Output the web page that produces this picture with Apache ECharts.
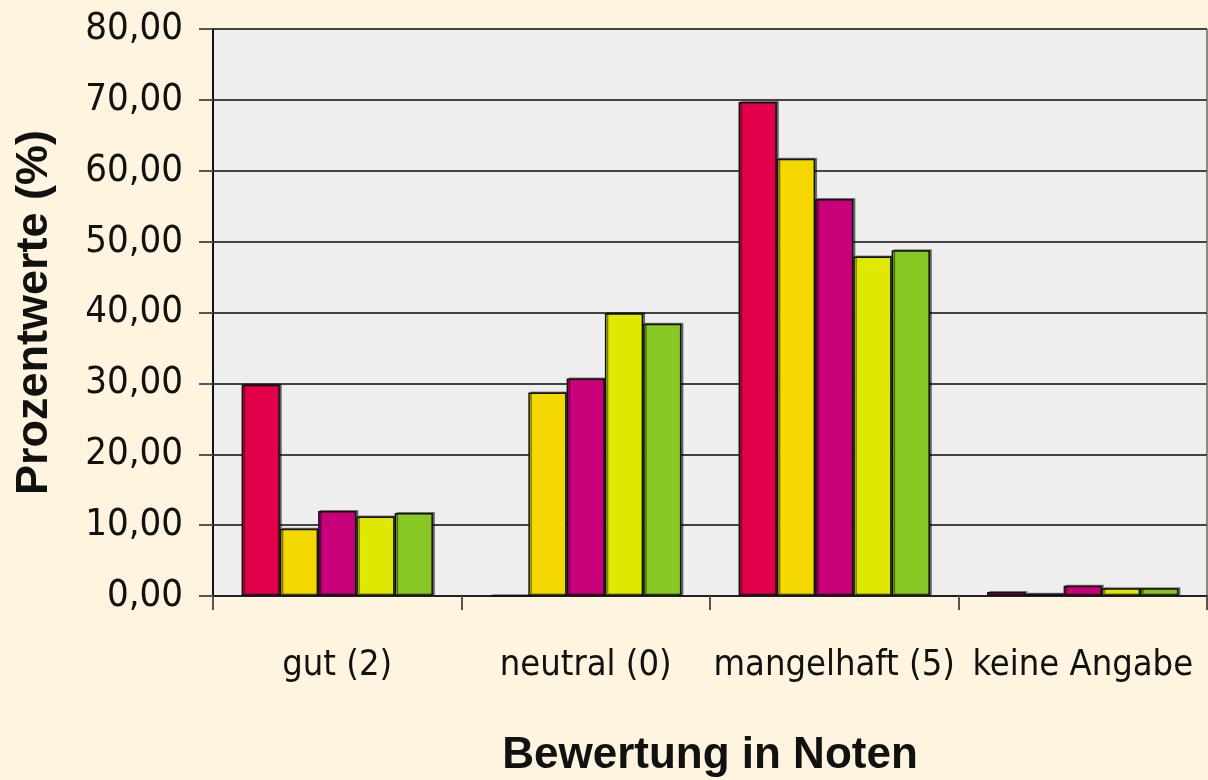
<!DOCTYPE html>
<html>
<head>
<meta charset="utf-8">
<script src="https://cdn.jsdelivr.net/npm/echarts@6/dist/echarts.min.js"></script>
<style>
html,body{margin:0;padding:0;background:#fef4df;}
#c{width:1208px;height:780px;}
</style>
</head>
<body>
<div id="c"></div>
<script>
var categories = ['gut (2)', 'neutral (0)', 'mangelhaft (5)', 'keine Angabe'];
var seriesNames = ['Reihe 1', 'Reihe 2', 'Reihe 3', 'Reihe 4', 'Reihe 5'];
var series1 = [29.8, 0, 69.7, 0.55];
var series2 = [9.5, 28.7, 61.7, 0.3];
var series3 = [12.0, 30.7, 56.0, 1.45];
var series4 = [11.2, 39.9, 47.9, 1.1];
var series5 = [11.7, 38.4, 48.8, 1.1];
var seriesColors = ['#e2004a', '#f5d800', '#c8007a', '#dfe800', '#88c824'];
var yTitle = 'Prozentwerte (%)';
var xTitle = 'Bewertung in Noten';

var allValues = [series1, series2, series3, series4, series5];
var chart = echarts.init(document.getElementById('c'), null, {renderer: 'canvas'});
var labelFont = '"DejaVu Sans Condensed", "Liberation Sans Narrow", sans-serif';
var titleFont = '"Liberation Sans", Arial, sans-serif';

chart.setOption({
  backgroundColor: '#fef4df',
  animation: false,
  grid: {
    left: 213, right: 1, top: 29, bottom: 184,
    outerBoundsMode: 'none',
    containLabel: false,
    show: true, backgroundColor: '#eeeeee', borderColor: '#222', borderWidth: 1
  },
  xAxis: {
    type: 'category',
    data: categories,
    name: xTitle,
    nameLocation: 'middle',
    nameGap: 138,
    nameTextStyle: {fontFamily: titleFont, fontWeight: 'bold', fontSize: 44, color: '#111'},
    axisLine: {show: true, lineStyle: {color: '#222', width: 2}},
    axisTick: {show: true, alignWithLabel: false, length: 14, lineStyle: {color: '#555', width: 2}},
    axisLabel: {fontFamily: labelFont, fontSize: 36, color: '#111', margin: 52, interval: 0},
    splitLine: {show: false}
  },
  yAxis: {
    type: 'value',
    min: 0, max: 80, interval: 10,
    name: yTitle,
    nameLocation: 'middle',
    nameGap: 156,
    nameTextStyle: {fontFamily: titleFont, fontWeight: 'bold', fontSize: 45, color: '#111'},
    axisLine: {show: true, lineStyle: {color: '#111', width: 2}},
    axisTick: {show: true, length: 14, lineStyle: {color: '#555', width: 2}},
    axisLabel: {
      fontFamily: labelFont, fontSize: 38, color: '#111', margin: 30,
      formatter: function (v) { return v.toFixed(2).replace('.', ','); }
    },
    splitLine: {show: true, lineStyle: {color: '#444', width: 2}}
  },
  series: allValues.map(function (vals, i) {
    return {
      name: seriesNames[i],
      type: 'bar',
      data: vals,
      barGap: '0%',
      barCategoryGap: '23%',
      itemStyle: {
        color: seriesColors[i],
        borderColor: '#111',
        borderWidth: 1.5,
        shadowColor: 'rgba(0,0,0,0.45)',
        shadowOffsetX: 2,
        shadowOffsetY: -1,
        shadowBlur: 0
      }
    };
  })
});
</script>
</body>
</html>
